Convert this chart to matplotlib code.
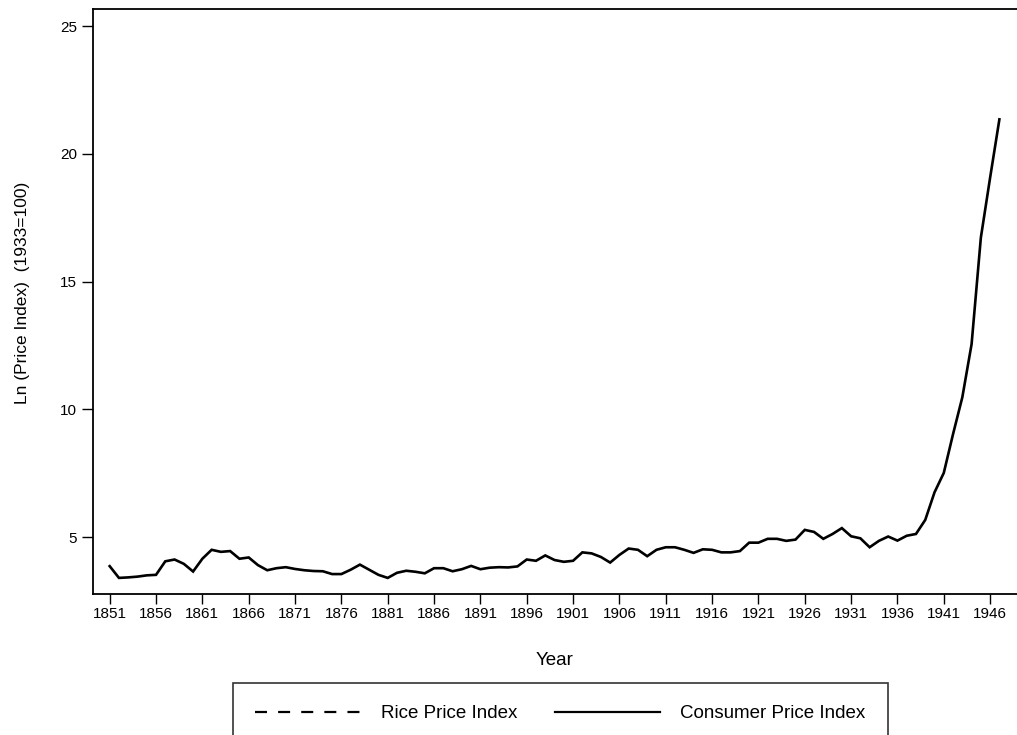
import numpy as np
import matplotlib.pyplot as plt
from matplotlib.lines import Line2D

plt.rcParams['font.family'] = ['Liberation Sans', 'DejaVu Sans']

# Consumer Price Index, ln scale (1933=100)
years = list(range(1851, 1948))
cpi = [3.86, 3.40, 3.42, 3.45, 3.50, 3.52, 4.05, 4.12, 3.95, 3.65,
       4.15, 4.50, 4.42, 4.45, 4.15, 4.20, 3.90, 3.70, 3.78, 3.82,
       3.75, 3.70, 3.67, 3.66, 3.55, 3.55, 3.72, 3.92, 3.72, 3.52,
       3.40, 3.60, 3.68, 3.64, 3.58, 3.78, 3.78, 3.66, 3.74, 3.87,
       3.74, 3.80, 3.82, 3.81, 3.85, 4.12, 4.07, 4.28, 4.10, 4.03,
       4.07, 4.40, 4.36, 4.22, 4.00, 4.30, 4.55, 4.50, 4.25, 4.50,
       4.60, 4.60, 4.50, 4.38, 4.52, 4.50, 4.40, 4.40, 4.45, 4.78,
       4.78, 4.93, 4.93, 4.85, 4.90, 5.28, 5.20, 4.93, 5.12, 5.35,
       5.03, 4.95, 4.60, 4.85, 5.02, 4.86, 5.05, 5.12, 5.67, 6.75,
       7.51, 9.03, 10.47, 12.55, 16.72, 19.07, 21.35]

xticks = list(range(1851, 1947, 5))
yticks = [5, 10, 15, 20, 25]

fig = plt.figure(figsize=(10.17, 7.35), dpi=100)
ax = fig.add_axes([93 / 1017, 1 - 594 / 735, 1 - 93 / 1017, (594 - 9) / 735])

ax.plot(years, cpi, color='black', lw=1.9, solid_joinstyle='miter')

ax.set_xlim(1849.2, 1948.9)
ax.set_ylim(2.77, 25.67)
ax.set_xticks(xticks)
ax.set_yticks(yticks)
ax.tick_params(axis='both', direction='out', length=8, width=1, labelsize=11, colors='black')
ax.tick_params(axis='x', length=7, pad=2)
ax.spines['right'].set_visible(False)
for s in ['left', 'bottom', 'top']:
    ax.spines[s].set_linewidth(1.3)

ax.set_xlabel('Year', fontsize=13.5, labelpad=23)
ax.set_ylabel('Ln (Price Index)  (1933=100)', fontsize=12.5)
ax.yaxis.set_label_coords(-0.068, 0.515)

handles = [Line2D([], [], color='black', lw=1.6, ls=(0, (5.4, 5.0))),
           Line2D([], [], color='black', lw=1.6)]
leg = fig.legend(handles, ['Rice Price Index', 'Consumer Price Index'],
                 loc='lower center', bbox_to_anchor=(0.551, -0.026), ncol=2,
                 fontsize=13.5, frameon=True, fancybox=False, handlelength=5.6,
                 handletextpad=1.1, columnspacing=2.0, borderpad=1.2,
                 edgecolor='black')
leg.get_frame().set_linewidth(1.2)

fig.savefig('out.png', dpi=100)
